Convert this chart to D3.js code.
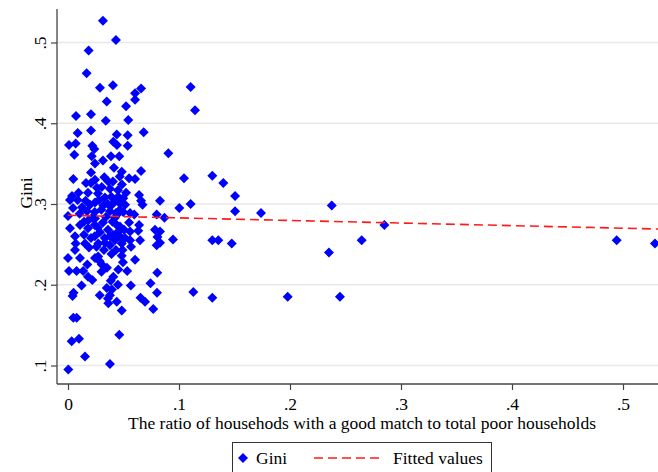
<!DOCTYPE html>
<html>
<head>
<meta charset="utf-8">
<script src="https://cdn.jsdelivr.net/npm/d3@7"></script>
<style>
  body { margin: 0; background: #fff; }
  text { font-family: "Liberation Serif", "Times New Roman", serif; }
</style>
</head>
<body>
<svg id="chart" width="658" height="472"></svg>
<script>
// ratio of households with a good match (x) and Gini (y), one entry per point
const ratio = [
  0.0315, 0.0432, 0.0186, 0.0168, 0.0288, 0.0405, 0.0658, 0.0604, 0.0604, 0.0349,
  0.0523, 0.0072, 0.0207, 0.0340, 0.0543, 0.1105, 0.1144, 0.0087, 0.0207, 0.0439,
  0.0538, 0.0682, 0.0009, 0.0069, 0.0057, 0.0219, 0.0237, 0.0214, 0.0243, 0.0408,
  0.0441, 0.0538, 0.0387, 0.0462, 0.0904, 0.0207, 0.0048, 0.0484, 0.0658, 0.0327,
  0.0243, 0.0363, 0.0405, 0.0207, 0.0550, 0.0604, 0.0304, 0.0378, 0.0095, 0.0180,
  0.0036, 0.0018, 0.0087, 0.0158, 0.0243, 0.0333, 0.0428, 0.0498, 0.0270, 0.0390,
  0.0450, 0.0466, 0.1045, 0.1300, 0.1399, 0.0453, 0.0640, 0.0514, 0.0658, 0.0671,
  0.0829, 0.0171, 0.0318, 0.0378, 0.0468, 0.0597, 0.0799, 0.0869, 0.0360, 0.0466,
  0.0045, 0.0241, 0.0300, 0.0450, 0.0105, 0.0498, 0.1003, 0.1105, 0.1505, 0.1505,
  0.1739, 0.2376, 0.0018, 0.0108, 0.0183, 0.0243, 0.0315, 0.0401, 0.0468, 0.0550,
  0.0241, 0.0439, 0.0640, 0.0180, 0.0270, 0.0360, 0.0784, 0.0829, 0.0633, 0.0559,
  0.0453, 0.2850, 0.0806, 0.0649, 0.0946, 0.0063, 0.0144, 0.0153, 0.0273, 0.0423,
  0.0514, 0.0378, 0.0568, 0.0069, 0.0257, 0.0333, 0.0484, 0.0799, 0.0241, 0.0331,
  0.0405, 0.0468, 0.0559, 0.0829, 0.1300, 0.1354, 0.1475, 0.2646, 0.4943, 0.5288,
  0.0063, 0.0272, 0.0286, 0.0392, 0.0484, 0.0491, 0.2351, 0.0304, 0.0174, 0.0009,
  0.0077, 0.0137, 0.0180, 0.0219, 0.0302, 0.0408, 0.0453, 0.0533, 0.0385, 0.0349,
  0.0396, 0.0378, 0.0122, 0.0050, 0.0041, 0.0286, 0.0363, 0.0439, 0.0484, 0.0566,
  0.0653, 0.0694, 0.0743, 0.0804, 0.0802, 0.0768, 0.0450, 0.0360, 0.1129, 0.1300,
  0.1979, 0.2450, 0.0048, 0.0078, 0.0033, 0.0099, 0.0462, 0.0153, 0.0378, 0.0003,
  0.0198, 0.0279, 0.0396, 0.0432, 0.0216, 0.0342, 0.0144, 0.0288, 0.0207, 0.0378,
  0.0505, 0.0324, 0.0189, 0.0432, 0.0559, 0.0523, 0.0126, 0.0261, 0.0162, 0.0414,
  0.0315, 0.0486, 0.0000, 0.0000, 0.0243, 0.0351, 0.0495, 0.0604, 0.0108, 0.0423
];
const gini = [
  0.527, 0.503, 0.490, 0.462, 0.444, 0.447, 0.443, 0.437, 0.429, 0.427,
  0.421, 0.409, 0.411, 0.403, 0.404, 0.445, 0.416, 0.388, 0.391, 0.386,
  0.385, 0.389, 0.373, 0.375, 0.361, 0.372, 0.368, 0.359, 0.350, 0.377,
  0.373, 0.372, 0.359, 0.359, 0.363, 0.339, 0.331, 0.340, 0.341, 0.333,
  0.330, 0.328, 0.328, 0.326, 0.332, 0.331, 0.321, 0.319, 0.314, 0.314,
  0.310, 0.305, 0.305, 0.304, 0.302, 0.308, 0.306, 0.307, 0.313, 0.309,
  0.317, 0.334, 0.332, 0.335, 0.326, 0.309, 0.311, 0.299, 0.304, 0.299,
  0.304, 0.291, 0.298, 0.291, 0.293, 0.287, 0.287, 0.283, 0.300, 0.301,
  0.295, 0.290, 0.293, 0.288, 0.288, 0.290, 0.295, 0.300, 0.310, 0.291,
  0.289, 0.298, 0.270, 0.274, 0.280, 0.282, 0.277, 0.278, 0.272, 0.277,
  0.274, 0.274, 0.274, 0.270, 0.271, 0.268, 0.268, 0.266, 0.267, 0.266,
  0.266, 0.274, 0.259, 0.255, 0.256, 0.260, 0.262, 0.251, 0.251, 0.255,
  0.258, 0.249, 0.247, 0.251, 0.247, 0.252, 0.251, 0.249, 0.260, 0.258,
  0.262, 0.260, 0.255, 0.252, 0.255, 0.255, 0.251, 0.255, 0.255, 0.251,
  0.243, 0.235, 0.229, 0.238, 0.236, 0.243, 0.240, 0.225, 0.225, 0.217,
  0.217, 0.217, 0.210, 0.206, 0.216, 0.210, 0.219, 0.217, 0.205, 0.196,
  0.194, 0.187, 0.199, 0.190, 0.186, 0.187, 0.177, 0.179, 0.168, 0.199,
  0.184, 0.179, 0.202, 0.215, 0.190, 0.170, 0.200, 0.183, 0.191, 0.184,
  0.185, 0.185, 0.159, 0.159, 0.130, 0.133, 0.138, 0.111, 0.102, 0.095,
  0.299, 0.305, 0.299, 0.289, 0.283, 0.284, 0.278, 0.265, 0.258, 0.260,
  0.268, 0.243, 0.246, 0.243, 0.289, 0.314, 0.296, 0.320, 0.326, 0.345,
  0.354, 0.324, 0.285, 0.233, 0.233, 0.221, 0.228, 0.231, 0.233, 0.283
];

// fitted line end points
const fitX = [0, 0.535];
const fitY = [0.286, 0.2689];

const xTicks = [0, 0.1, 0.2, 0.3, 0.4, 0.5];
const xTickLabels = ["0", ".1", ".2", ".3", ".4", ".5"];
const yTicks = [0.1, 0.2, 0.3, 0.4, 0.5];
const yTickLabels = [".1", ".2", ".3", ".4", ".5"];

const xTitle = "The ratio of househods with a good match to total poor households";
const yTitle = "Gini";
const legendLabels = ["Gini", "Fitted values"];

const width = 658;
const height = 472;
const plotLeft = 57;
const plotTop = 9;
const plotBottom = 384;
const fontSize = 17.5;

const svg = d3.select("#chart");

const x = d3.scaleLinear().domain([0, 0.5]).range([68, 623]);
const y = d3.scaleLinear().domain([0.1, 0.5]).range([365.5, 42.5]);

// horizontal grid lines
svg.append("g")
  .selectAll("line")
  .data(yTicks)
  .enter()
  .append("line")
  .attr("x1", plotLeft)
  .attr("x2", width)
  .attr("y1", d => y(d))
  .attr("y2", d => y(d))
  .attr("stroke", "#e8e8e8")
  .attr("stroke-width", 1.6);

// points
const points = ratio.map((r, i) => ({x: r, y: gini[i]}));
const diamond = d3.symbol().type(d3.symbolSquare).size(50);

svg.append("g")
  .selectAll("path")
  .data(points)
  .enter()
  .append("path")
  .attr("d", diamond)
  .attr("transform", d => "translate(" + x(d.x) + "," + y(d.y) + ") rotate(45)")
  .attr("fill", "#0000ff");

// fitted values
const line = d3.line().x(d => x(d[0])).y(d => y(d[1]));
svg.append("path")
  .datum(fitX.map((v, i) => [v, fitY[i]]))
  .attr("d", line)
  .attr("fill", "none")
  .attr("stroke", "#ff1a1a")
  .attr("stroke-width", 1.6)
  .attr("stroke-dasharray", "9,5");

// y axis
const yAxis = d3.axisLeft(y)
  .tickValues(yTicks)
  .tickFormat((d, i) => yTickLabels[i])
  .tickSize(6)
  .tickSizeOuter(0);

const gy = svg.append("g")
  .attr("transform", "translate(" + plotLeft + ",0)")
  .call(yAxis);
gy.select(".domain").remove();
gy.selectAll("line").attr("stroke", "#444").attr("stroke-width", 1.2);
gy.selectAll("text")
  .attr("transform", "rotate(-90)")
  .attr("x", 0)
  .attr("y", -11)
  .attr("dy", 0)
  .attr("text-anchor", "middle")
  .attr("fill", "#000")
  .style("font-size", fontSize + "px")
  .style("font-family", "Liberation Serif");
gy.append("line")
  .attr("x1", 0).attr("x2", 0)
  .attr("y1", plotTop).attr("y2", plotBottom)
  .attr("stroke", "#444")
  .attr("stroke-width", 1.3);

// x axis
const xAxis = d3.axisBottom(x)
  .tickValues(xTicks)
  .tickFormat((d, i) => xTickLabels[i])
  .tickSize(6)
  .tickSizeOuter(0);

const gx = svg.append("g")
  .attr("transform", "translate(0," + plotBottom + ")")
  .call(xAxis);
gx.select(".domain").remove();
gx.selectAll("line").attr("stroke", "#444").attr("stroke-width", 1.2);
gx.selectAll("text")
  .attr("y", 26)
  .attr("dy", 0)
  .attr("fill", "#000")
  .style("font-size", fontSize + "px")
  .style("font-family", "Liberation Serif");
gx.append("line")
  .attr("x1", plotLeft).attr("x2", width)
  .attr("y1", 0).attr("y2", 0)
  .attr("stroke", "#444")
  .attr("stroke-width", 1.3);

// axis titles
svg.append("text")
  .attr("x", 362)
  .attr("y", 429)
  .attr("text-anchor", "middle")
  .style("font-size", fontSize + "px")
  .text(xTitle);

svg.append("text")
  .attr("transform", "translate(32,193) rotate(-90)")
  .attr("text-anchor", "middle")
  .style("font-size", fontSize + "px")
  .text(yTitle);

// legend
const legend = svg.append("g");
legend.append("rect")
  .attr("x", 232.5)
  .attr("y", 442.5)
  .attr("width", 259)
  .attr("height", 40)
  .attr("fill", "#fff")
  .attr("stroke", "#333")
  .attr("stroke-width", 1);

legend.append("path")
  .attr("d", diamond)
  .attr("transform", "translate(243,458) rotate(45)")
  .attr("fill", "#0000ff");

legend.append("text")
  .attr("x", 256)
  .attr("y", 464)
  .style("font-size", fontSize + "px")
  .text(legendLabels[0]);

legend.append("line")
  .attr("x1", 314).attr("x2", 381)
  .attr("y1", 458).attr("y2", 458)
  .attr("stroke", "#ff1a1a")
  .attr("stroke-width", 1.6)
  .attr("stroke-dasharray", "9,5");

legend.append("text")
  .attr("x", 393)
  .attr("y", 464)
  .style("font-size", fontSize + "px")
  .text(legendLabels[1]);
</script>
</body>
</html>
